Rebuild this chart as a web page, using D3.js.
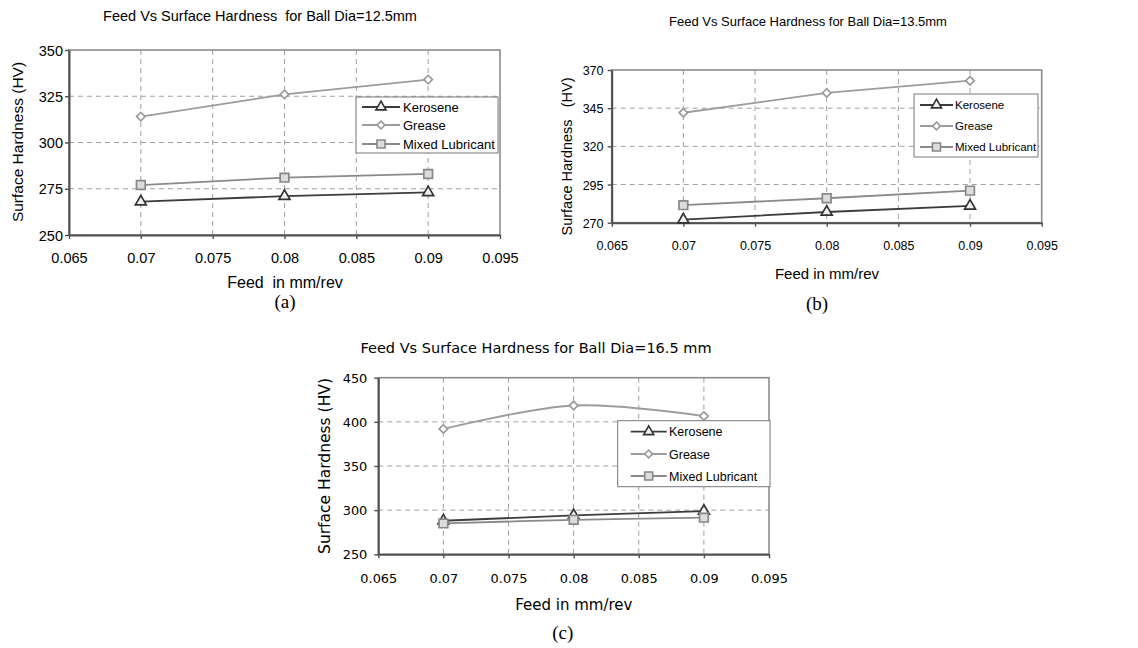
<!DOCTYPE html>
<html>
<head>
<meta charset="utf-8">
<script src="https://cdn.jsdelivr.net/npm/d3@7"></script>
<style>
  body { margin: 0; background: white; }
  .grid line { stroke: #a0a0a0; stroke-dasharray: 5,4; stroke-width: 1; }
</style>
</head>
<body>
<svg id="plot"></svg>
<script>
const width = 1138;
const height = 648;

// datos
const feed = [0.07, 0.08, 0.09];
const xTicks = [0.065, 0.07, 0.075, 0.08, 0.085, 0.09, 0.095];
const seriesNames = ["Kerosene", "Grease", "Mixed Lubricant"];

const keroseneA = [268, 271, 273];
const greaseA = [314, 326, 334];
const mixedA = [277, 281, 283];
const yTicksA = [250, 275, 300, 325, 350];

const keroseneB = [272, 277, 281];
const greaseB = [342, 355, 363];
const mixedB = [281.5, 286, 291];
const yTicksB = [270, 295, 320, 345, 370];

const keroseneC = [288, 294, 299];
const greaseC = [392, 418.5, 406.5];
const mixedC = [285, 289, 291.5];
const yTicksC = [250, 300, 350, 400, 450];

const svg = d3.select("#plot")
  .attr("width", width)
  .attr("height", height)
  .style("background", "white");

// rombo = cuadrado girado 45 grados
const estilos = [
  {line: "#3c3c3c", stroke: "#333", fill: "#f0f0f0", symbol: d3.symbolTriangle, size: 52, rot: 0},
  {line: "#9c9c9c", stroke: "#999", fill: "#ffffff", symbol: d3.symbolSquare, size: 36, rot: 45},
  {line: "#8a8a8a", stroke: "#888", fill: "#dcdcdc", symbol: d3.symbolSquare, size: 76, rot: 0}
];

function drawChart(c) {
  const g = svg.append("g");
  const x = d3.scaleLinear().domain([0.065, 0.095]).range([c.x0, c.x1]);
  const y = d3.scaleLinear().domain([c.yTicks[0], c.yTicks[c.yTicks.length - 1]]).range([c.y1, c.y0]);

  // rejilla
  const grid = g.append("g").attr("class", "grid");
  grid.selectAll("line.h").data(c.yTicks.slice(1, -1)).enter().append("line")
    .attr("x1", c.x0).attr("x2", c.x1)
    .attr("y1", d => y(d)).attr("y2", d => y(d));
  grid.selectAll("line.v").data(xTicks.slice(1, -1)).enter().append("line")
    .attr("y1", c.y0).attr("y2", c.y1)
    .attr("x1", d => x(d)).attr("x2", d => x(d));

  // borde del area
  g.append("rect")
    .attr("x", c.x0).attr("y", c.y0)
    .attr("width", c.x1 - c.x0).attr("height", c.y1 - c.y0)
    .attr("fill", "none").attr("stroke", "#8c8c8c").attr("stroke-width", 1.6);

  // ejes
  const ax = g.append("g")
    .attr("transform", "translate(0," + c.y1 + ")")
    .call(d3.axisBottom(x).tickValues(xTicks).tickSize(4).tickSizeOuter(0).tickFormat(d => String(d)));
  const ay = g.append("g")
    .attr("transform", "translate(" + c.x0 + ",0)")
    .call(d3.axisLeft(y).tickValues(c.yTicks).tickSize(4).tickSizeOuter(0));
  [ax, ay].forEach(a => {
    a.select(".domain").attr("stroke", "#505050").attr("stroke-width", 2);
    a.selectAll(".tick line").attr("stroke", "#505050").attr("stroke-width", 1.4);
    a.selectAll("text").attr("fill", "#000")
      .style("font-family", c.tickFont).style("font-size", c.tickSize + "px");
  });
  ax.selectAll("text").attr("dy", null).attr("y", c.xTickY - c.y1);
  ay.selectAll("text").attr("x", c.yTickX - c.x0).attr("dy", "0.36em");

  // series
  const series = [c.kerosene, c.grease, c.mixed];
  const line = d3.line().x((d, i) => x(feed[i])).y(d => y(d)).curve(c.curve);
  series.forEach((s, k) => {
    g.append("path").datum(s)
      .attr("d", line)
      .attr("fill", "none")
      .attr("stroke", estilos[k].line)
      .attr("stroke-width", 1.8);
    g.selectAll("path.m" + k).data(s).enter().append("path")
      .attr("class", "m" + k)
      .attr("transform", (d, i) => "translate(" + x(feed[i]) + "," + y(d) + ") rotate(" + estilos[k].rot + ")")
      .attr("d", d3.symbol().type(estilos[k].symbol).size(estilos[k].size))
      .attr("fill", estilos[k].fill)
      .attr("stroke", estilos[k].stroke)
      .attr("stroke-width", 1.7);
  });

  // leyenda
  const lg = g.append("g");
  lg.append("rect")
    .attr("x", c.leg.x0).attr("y", c.leg.y0)
    .attr("width", c.leg.x1 - c.leg.x0).attr("height", c.leg.y1 - c.leg.y0)
    .attr("fill", "white").attr("stroke", "#777").attr("stroke-width", 1);
  seriesNames.forEach((name, k) => {
    const ry = c.leg.rows[k];
    lg.append("line")
      .attr("x1", c.leg.lx0).attr("x2", c.leg.lx1)
      .attr("y1", ry).attr("y2", ry)
      .attr("stroke", estilos[k].line).attr("stroke-width", 1.8);
    lg.append("path")
      .attr("transform", "translate(" + (c.leg.lx0 + c.leg.lx1) / 2 + "," + ry + ") rotate(" + estilos[k].rot + ")")
      .attr("d", d3.symbol().type(estilos[k].symbol).size(estilos[k].size * 0.85))
      .attr("fill", estilos[k].fill)
      .attr("stroke", estilos[k].stroke)
      .attr("stroke-width", 1.6);
    lg.append("text")
      .attr("x", c.leg.tx).attr("y", ry).attr("dy", "0.36em")
      .style("font-family", "'Liberation Sans', Arial, sans-serif")
      .style("font-size", c.leg.size + "px")
      .attr("fill", "#000")
      .text(name);
  });

  // textos
  g.append("text")
    .attr("x", c.title.x).attr("y", c.title.y)
    .attr("text-anchor", "middle")
    .style("font-family", c.labelFont).style("font-size", c.title.size + "px")
    .attr("fill", "#000")
    .style("white-space", "pre")
    .text(c.title.text);

  g.append("text")
    .attr("x", c.xLabel.x).attr("y", c.xLabel.y)
    .attr("text-anchor", "middle")
    .style("font-family", c.labelFont).style("font-size", c.xLabel.size + "px")
    .attr("fill", "#000")
    .style("white-space", "pre")
    .text(c.xLabel.text);

  g.append("text")
    .attr("transform", "translate(" + c.yLabel.x + "," + c.yLabel.y + ") rotate(-90)")
    .attr("text-anchor", "middle")
    .style("font-family", c.labelFont).style("font-size", c.yLabel.size + "px")
    .attr("fill", "#000")
    .style("white-space", "pre")
    .text(c.yLabel.text);

  g.append("text")
    .attr("x", c.tag.x).attr("y", c.tag.y)
    .attr("text-anchor", "middle")
    .style("font-family", "'Liberation Serif', 'Times New Roman', serif")
    .style("font-size", "19px")
    .attr("fill", "#000")
    .text(c.tag.text);
}

const arial = "'Liberation Sans', Arial, sans-serif";
const verdana = "'DejaVu Sans', Verdana, sans-serif";

drawChart({
  x0: 69, x1: 500, y0: 50, y1: 235,
  yTicks: yTicksA, kerosene: keroseneA, grease: greaseA, mixed: mixedA,
  curve: d3.curveLinear,
  tickFont: arial, tickSize: 14.5, labelFont: arial,
  xTickY: 262.5, yTickX: 63,
  title: {text: "Feed Vs Surface Hardness  for Ball Dia=12.5mm", x: 260, y: 20.5, size: 14.5},
  xLabel: {text: "Feed  in mm/rev", x: 285, y: 287.5, size: 16},
  yLabel: {text: "Surface Hardness (HV)", x: 22.5, y: 142, size: 15.5},
  tag: {text: "(a)", x: 285, y: 308},
  leg: {x0: 356, x1: 498, y0: 97, y1: 153, rows: [107, 125, 144], lx0: 362, lx1: 400, tx: 403, size: 13}
});

drawChart({
  x0: 611.7, x1: 1041.7, y0: 70, y1: 222.7,
  yTicks: yTicksB, kerosene: keroseneB, grease: greaseB, mixed: mixedB,
  curve: d3.curveLinear,
  tickFont: arial, tickSize: 12.5, labelFont: arial,
  xTickY: 250, yTickX: 603.5,
  title: {text: "Feed Vs Surface Hardness for Ball Dia=13.5mm", x: 808, y: 26, size: 13},
  xLabel: {text: "Feed in mm/rev", x: 827, y: 279, size: 15},
  yLabel: {text: "Surface Hardness   (HV)", x: 572, y: 156.5, size: 14.5},
  tag: {text: "(b)", x: 817, y: 310},
  leg: {x0: 914, x1: 1038, y0: 94, y1: 157, rows: [105, 126, 147], lx0: 920, lx1: 953, tx: 955, size: 11.5}
});

drawChart({
  x0: 378.3, x1: 769, y0: 377.7, y1: 554.3,
  yTicks: yTicksC, kerosene: keroseneC, grease: greaseC, mixed: mixedC,
  curve: d3.curveCardinal.tension(0),
  tickFont: verdana, tickSize: 12.9, labelFont: verdana,
  xTickY: 583, yTickX: 367.3,
  title: {text: "Feed Vs Surface Hardness for Ball Dia=16.5 mm", x: 536, y: 352.5, size: 14.5},
  xLabel: {text: "Feed in mm/rev", x: 573.8, y: 610, size: 15},
  yLabel: {text: "Surface Hardness (HV)", x: 330, y: 466, size: 15.5},
  tag: {text: "(c)", x: 562.7, y: 639},
  leg: {x0: 617.7, x1: 770, y0: 420.7, y1: 486.7, rows: [431.7, 454, 476], lx0: 630.7, lx1: 666.7, tx: 669, size: 12.5}
});
</script>
</body>
</html>
